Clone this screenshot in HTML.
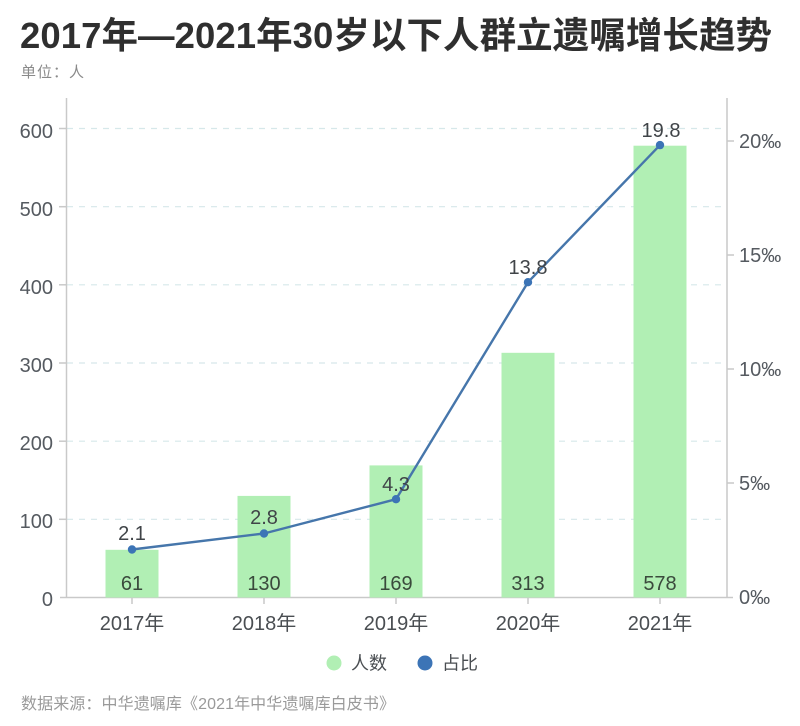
<!DOCTYPE html>
<html>
<head>
<meta charset="utf-8">
<style>
  html, body { margin: 0; padding: 0; background: #ffffff; }
  body { width: 800px; height: 726px; overflow: hidden; position: relative; }
  svg { position: absolute; left: 0; top: 0; }
  text { font-family: "Liberation Sans", "Noto Sans CJK SC", sans-serif; }
</style>
</head>
<body>
<svg width="800" height="726" viewBox="0 0 800 726" xmlns="http://www.w3.org/2000/svg">
  <!-- Title -->
  <text x="20" y="48" font-size="36.5" font-weight="bold" fill="#2f2f2f" textLength="752" lengthAdjust="spacing">2017年—2021年30岁以下人群立遗嘱增长趋势</text>
  <text x="21" y="77" font-size="15" fill="#8a8a8a" letter-spacing="1">单位：人</text>

  <!-- Gridlines (dashed) -->
  <g stroke="#d6e8ea" stroke-width="1.2" stroke-dasharray="6,6">
    <line x1="67" y1="128.5" x2="727" y2="128.5"/>
    <line x1="67" y1="206.7" x2="727" y2="206.7"/>
    <line x1="67" y1="284.8" x2="727" y2="284.8"/>
    <line x1="67" y1="363" x2="727" y2="363"/>
    <line x1="67" y1="441.2" x2="727" y2="441.2"/>
    <line x1="67" y1="519.3" x2="727" y2="519.3"/>
  </g>

  <!-- Axes -->
  <g stroke="#c9c9c9" stroke-width="1.5">
    <line x1="66.5" y1="98" x2="66.5" y2="597.5"/>
    <line x1="727" y1="98" x2="727" y2="597.5"/>
    <line x1="60" y1="597.5" x2="733" y2="597.5"/>
    <line x1="59" y1="128.5" x2="66" y2="128.5"/>
    <line x1="59" y1="206.7" x2="66" y2="206.7"/>
    <line x1="59" y1="284.8" x2="66" y2="284.8"/>
    <line x1="59" y1="363" x2="66" y2="363"/>
    <line x1="59" y1="441.2" x2="66" y2="441.2"/>
    <line x1="59" y1="519.3" x2="66" y2="519.3"/>
    <line x1="727" y1="141" x2="734" y2="141"/>
    <line x1="727" y1="255" x2="734" y2="255"/>
    <line x1="727" y1="369" x2="734" y2="369"/>
    <line x1="727" y1="483" x2="734" y2="483"/>
    <line x1="132" y1="597.5" x2="132" y2="604"/>
    <line x1="264" y1="597.5" x2="264" y2="604"/>
    <line x1="396" y1="597.5" x2="396" y2="604"/>
    <line x1="528" y1="597.5" x2="528" y2="604"/>
    <line x1="660" y1="597.5" x2="660" y2="604"/>
  </g>

  <!-- Left tick labels -->
  <g font-size="20" fill="#555a60" text-anchor="end">
    <text x="53" y="138">600</text>
    <text x="53" y="216">500</text>
    <text x="53" y="294">400</text>
    <text x="53" y="372">300</text>
    <text x="53" y="450">200</text>
    <text x="53" y="528">100</text>
    <text x="53" y="606">0</text>
  </g>

  <!-- Right tick labels -->
  <g font-size="20" fill="#555a60">
    <text x="739" y="148">20‰</text>
    <text x="739" y="262">15‰</text>
    <text x="739" y="376">10‰</text>
    <text x="739" y="490">5‰</text>
    <text x="739" y="604">0‰</text>
  </g>

  <!-- Bars -->
  <g fill="#b1efb4">
    <rect x="105.5" y="549.8" width="53" height="47.7"/>
    <rect x="237.5" y="495.9" width="53" height="101.6"/>
    <rect x="369.5" y="465.4" width="53" height="132.1"/>
    <rect x="501.5" y="352.8" width="53" height="244.7"/>
    <rect x="633.5" y="145.7" width="53" height="451.8"/>
  </g>

  <!-- Bar value labels -->
  <g font-size="20" fill="#3a4a3c" text-anchor="middle">
    <text x="132" y="590">61</text>
    <text x="264" y="590">130</text>
    <text x="396" y="590">169</text>
    <text x="528" y="590">313</text>
    <text x="660" y="590">578</text>
  </g>

  <!-- Line -->
  <polyline points="132,549.5 264,533.5 396,499.2 528,282.2 660,145.1" fill="none" stroke="#4676ab" stroke-width="2.4" stroke-linejoin="round"/>
  <g fill="#3c74b6">
    <circle cx="132" cy="549.5" r="4.2"/>
    <circle cx="264" cy="533.5" r="4.2"/>
    <circle cx="396" cy="499.2" r="4.2"/>
    <circle cx="528" cy="282.2" r="4.2"/>
    <circle cx="660" cy="145.1" r="4.2"/>
  </g>

  <!-- Line value labels -->
  <g font-size="20" fill="#404448" text-anchor="middle">
    <text x="132" y="540">2.1</text>
    <text x="264" y="524">2.8</text>
    <text x="396" y="491">4.3</text>
    <text x="528" y="274">13.8</text>
    <text x="661" y="137">19.8</text>
  </g>

  <!-- Category labels -->
  <g font-size="20" fill="#4a4e52" text-anchor="middle">
    <text x="132" y="630">2017年</text>
    <text x="264" y="630">2018年</text>
    <text x="396" y="630">2019年</text>
    <text x="528" y="630">2020年</text>
    <text x="660" y="630">2021年</text>
  </g>

  <!-- Legend -->
  <circle cx="334" cy="663" r="7.5" fill="#b1efb4"/>
  <text x="351" y="669.5" font-size="18" fill="#4a4e52">人数</text>
  <circle cx="425" cy="663" r="7.5" fill="#3c74b6"/>
  <text x="442" y="669.5" font-size="18" fill="#4a4e52">占比</text>

  <!-- Source -->
  <text x="21" y="709" font-size="16" fill="#9a9a9a" textLength="374" lengthAdjust="spacing">数据来源：中华遗嘱库《2021年中华遗嘱库白皮书》</text>
</svg>
</body>
</html>
